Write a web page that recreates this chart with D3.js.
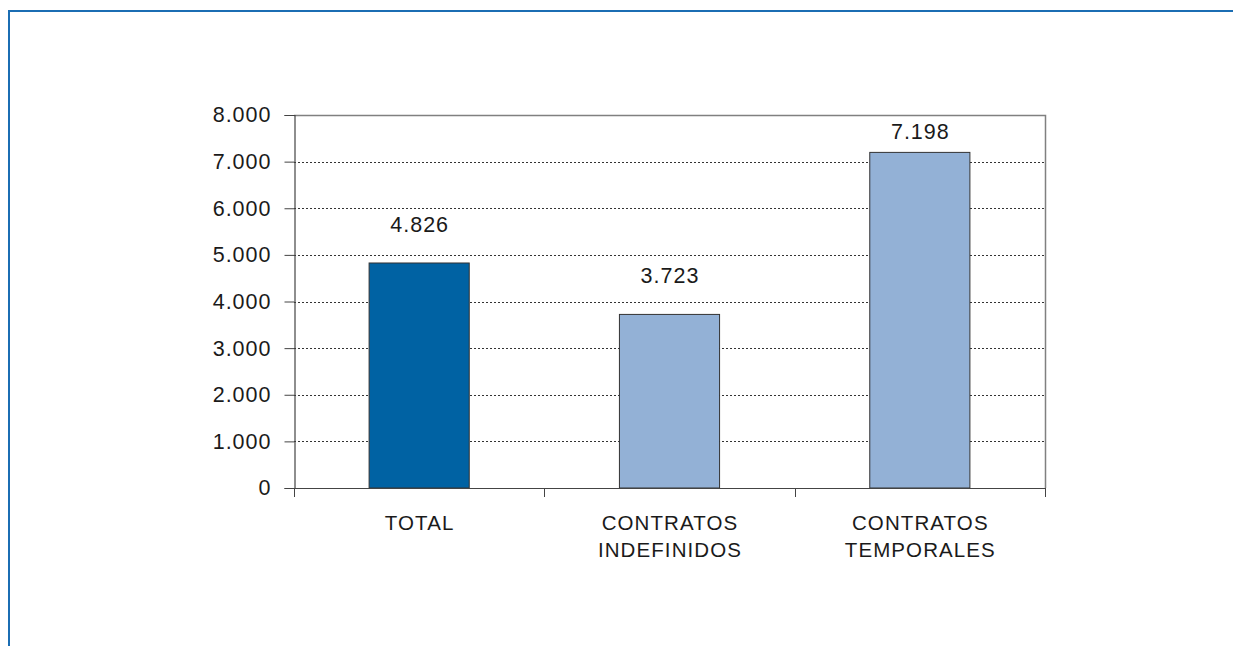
<!DOCTYPE html>
<html>
<head>
<meta charset="utf-8">
<script src="https://cdn.jsdelivr.net/npm/d3@7"></script>
<style>
  html, body { margin: 0; padding: 0; background: #fff; }
  svg { display: block; }
  text { font-family: "Liberation Sans", Arial, sans-serif; fill: #1a1a1a; }
</style>
</head>
<body>
<div id="chart"></div>
<script>
// datos del gráfico
const categorias = ["TOTAL", "CONTRATOS\nINDEFINIDOS", "CONTRATOS\nTEMPORALES"];
const valores = [4826, 3723, 7198];
const colores = ["#0062a3", "#93b1d6", "#93b1d6"];
const ticksY = [0, 1000, 2000, 3000, 4000, 5000, 6000, 7000, 8000];

const width = 1233;
const height = 646;
const margin = { top: 115, right: 188, bottom: 158, left: 294 };

const locale = d3.formatLocale({ decimal: ",", thousands: ".", grouping: [3], currency: ["", " €"] });
const fmt = locale.format(",d");

const svg = d3.select("#chart")
  .append("svg")
  .attr("width", width)
  .attr("height", height);

// marco azul
svg.append("path")
  .attr("d", `M9,${height} V11 H${width}`)
  .attr("fill", "none")
  .attr("stroke", "#1b6db3")
  .attr("stroke-width", 2);

const x = d3.scaleBand()
  .domain(categorias)
  .range([margin.left, width - margin.right])
  .paddingInner(0)
  .paddingOuter(0);

const y = d3.scaleLinear()
  .domain([0, 8000])
  .range([height - margin.bottom, margin.top]);

// líneas de división punteadas
svg.append("g")
  .selectAll("line")
  .data(ticksY.filter(d => d > 0 && d < 8000))
  .join("line")
  .attr("x1", margin.left)
  .attr("x2", width - margin.right)
  .attr("y1", d => Math.round(y(d)) + 0.5)
  .attr("y2", d => Math.round(y(d)) + 0.5)
  .attr("stroke", "#333")
  .attr("stroke-width", 1)
  .attr("stroke-dasharray", "2,2");

// borde superior y derecho del área de trazado
svg.append("path")
  .attr("d", `M${margin.left},${Math.round(y(8000)) + 0.5} H${width - margin.right + 0.5} V${y(0)}`)
  .attr("fill", "none")
  .attr("stroke", "#808080")
  .attr("stroke-width", 1.5);

// barras
const anchoBarra = x.bandwidth() * 0.4;
svg.append("g")
  .selectAll("rect")
  .data(valores)
  .join("rect")
  .attr("x", (d, i) => x(categorias[i]) + (x.bandwidth() - anchoBarra) / 2)
  .attr("y", d => y(d))
  .attr("width", anchoBarra)
  .attr("height", d => y(0) - y(d))
  .attr("fill", (d, i) => colores[i])
  .attr("stroke", "#333")
  .attr("stroke-width", 1);

// etiquetas de valor (dentro del área de trazado)
svg.append("g")
  .selectAll("text")
  .data(valores)
  .join("text")
  .attr("x", (d, i) => x(categorias[i]) + x.bandwidth() / 2 + 0.5)
  .attr("y", d => Math.max(y(d) - 31, y(8000) + 24))
  .attr("text-anchor", "middle")
  .attr("font-size", 21.5)
  .attr("letter-spacing", 1)
  .text(d => fmt(d));

// eje Y
const ejeY = d3.axisLeft(y)
  .tickValues(ticksY)
  .tickFormat(fmt)
  .tickSize(10)
  .tickPadding(13);

const gY = svg.append("g")
  .attr("transform", `translate(${margin.left + 0.5},0)`)
  .call(ejeY);
gY.select(".domain").attr("stroke", "#444").attr("stroke-width", 1.2);
gY.selectAll(".tick line").attr("stroke", "#444");
gY.selectAll(".tick text")
  .attr("font-size", 21.5)
  .attr("letter-spacing", 1)
  .attr("font-family", "Liberation Sans, Arial, sans-serif")
  .attr("fill", "#1a1a1a");

// eje X
const bordes = categorias.map(c => x(c)).concat([width - margin.right]);
svg.append("line")
  .attr("x1", margin.left - 2)
  .attr("x2", width - margin.right)
  .attr("y1", y(0) + 0.5)
  .attr("y2", y(0) + 0.5)
  .attr("stroke", "#444")
  .attr("stroke-width", 1.2);

svg.append("g")
  .selectAll("line")
  .data(bordes)
  .join("line")
  .attr("x1", d => Math.round(d) + 0.5)
  .attr("x2", d => Math.round(d) + 0.5)
  .attr("y1", y(0))
  .attr("y2", y(0) + 9)
  .attr("stroke", "#444");

// etiquetas de categoría
const etiquetas = svg.append("g")
  .selectAll("text")
  .data(categorias)
  .join("text")
  .attr("x", d => x(d) + x.bandwidth() / 2 + 0.5)
  .attr("y", 530)
  .attr("text-anchor", "middle")
  .attr("font-size", 20.5)
  .attr("letter-spacing", 1.1);

etiquetas.selectAll("tspan")
  .data(d => d.split("\n"))
  .join("tspan")
  .attr("x", function () { return d3.select(this.parentNode).attr("x"); })
  .attr("dy", (d, i) => i === 0 ? 0 : 27)
  .text(d => d);
</script>
</body>
</html>
